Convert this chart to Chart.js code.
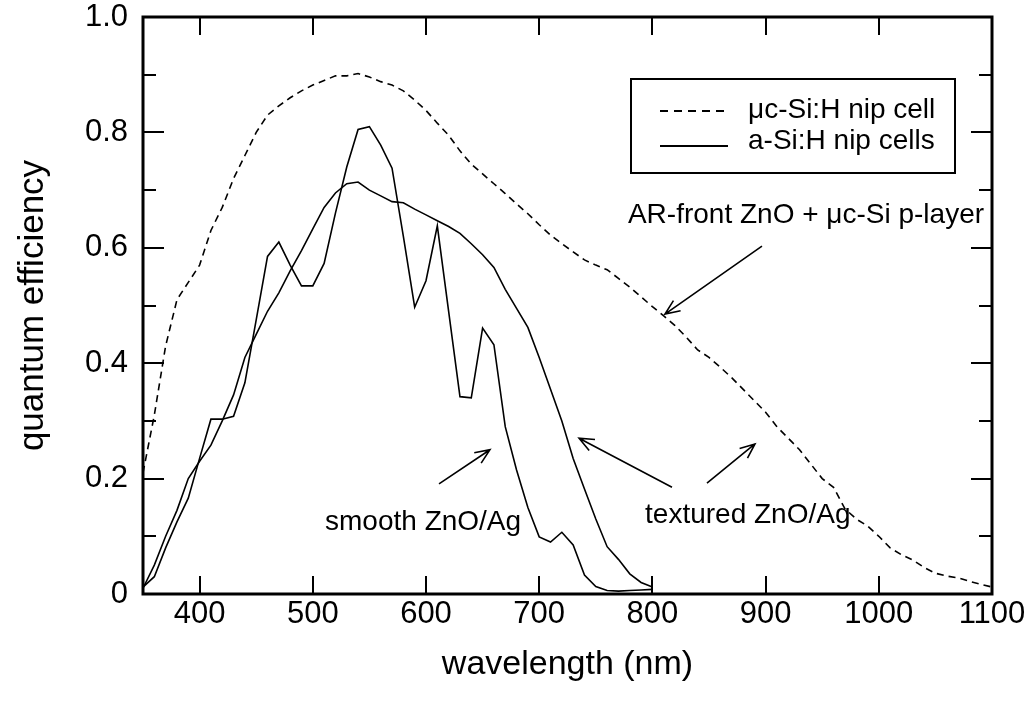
<!DOCTYPE html>
<html>
<head>
<meta charset="utf-8">
<script src="https://cdn.jsdelivr.net/npm/chart.js@4.4.1/dist/chart.umd.min.js"></script>
<style>
    html, body { margin: 0; padding: 0; background: #fff; }
    #wrap { width: 1033px; height: 711px; position: relative; }
</style>
</head>
<body>
<div id="wrap"><canvas id="qeChart"></canvas></div>
<script>
// microcrystalline cell (dashed)
const microWl = [350, 360, 370, 380, 390, 400, 410, 420, 430, 440, 450, 460, 470, 480, 490, 500,
    510, 520, 530, 540, 550, 560, 570, 580, 590, 600, 610, 620, 630, 640, 650, 660, 670, 680, 690, 700,
    710, 720, 730, 740, 750, 760, 770, 780, 790, 800, 810, 820, 830, 840, 850, 860, 870, 880, 890, 900,
    910, 920, 930, 940, 950, 960, 970, 980, 990, 1000, 1010, 1020, 1030, 1040, 1050, 1060, 1070, 1080, 1090, 1100];
const microQE = [0.21, 0.31, 0.43, 0.51, 0.54, 0.57, 0.63, 0.67, 0.72, 0.76, 0.80, 0.83, 0.846, 0.86, 0.872, 0.882,
    0.89, 0.898, 0.898, 0.902, 0.896, 0.888, 0.882, 0.872, 0.856, 0.838, 0.816, 0.795, 0.768, 0.745, 0.728, 0.711, 0.694, 0.676, 0.659, 0.64,
    0.622, 0.607, 0.593, 0.579, 0.57, 0.562, 0.547, 0.532, 0.515, 0.498, 0.482, 0.465, 0.445, 0.423, 0.41, 0.393, 0.375, 0.355, 0.335, 0.315,
    0.29, 0.27, 0.25, 0.225, 0.2, 0.185, 0.148, 0.13, 0.118, 0.1, 0.08, 0.068, 0.059, 0.046, 0.036, 0.031, 0.028, 0.022, 0.017, 0.012];

// amorphous cells (solid)
const aSiWl = [350, 360, 370, 380, 390, 400, 410, 420, 430, 440, 450, 460, 470, 480, 490, 500,
    510, 520, 530, 540, 550, 560, 570, 580, 590, 600, 610, 620, 630, 640, 650, 660, 670, 680, 690, 700,
    710, 720, 730, 740, 750, 760, 770, 780, 790, 800];
const smoothQE = [0.012, 0.03, 0.08, 0.125, 0.166, 0.235, 0.303, 0.303, 0.308, 0.366, 0.475, 0.585, 0.61, 0.57, 0.534, 0.534,
    0.573, 0.66, 0.74, 0.805, 0.81, 0.778, 0.738, 0.62, 0.497, 0.543, 0.638, 0.49, 0.342, 0.34, 0.461, 0.432, 0.29, 0.215, 0.15, 0.099,
    0.09, 0.107, 0.085, 0.033, 0.013, 0.006, 0.005, 0.006, 0.007, 0.008];
const texturedQE = [0.01, 0.05, 0.1, 0.145, 0.2, 0.23, 0.258, 0.3, 0.345, 0.41, 0.45, 0.49, 0.522, 0.56, 0.595, 0.633,
    0.67, 0.695, 0.711, 0.714, 0.7, 0.69, 0.68, 0.678, 0.667, 0.657, 0.647, 0.637, 0.625, 0.607, 0.588, 0.566, 0.528, 0.495, 0.462, 0.41,
    0.355, 0.3, 0.235, 0.182, 0.13, 0.082, 0.06, 0.035, 0.02, 0.012];

const xTicks = [400, 500, 600, 700, 800, 900, 1000, 1100];
const yTicks = [0, 0.2, 0.4, 0.6, 0.8, 1.0];
const yMinorTicks = [0.1, 0.3, 0.5, 0.7, 0.9];

const legendLabels = ['\u03bcc-Si:H nip cell', 'a-Si:H nip cells'];

// annotation texts and arrows, in data units
const notes = [
    { text: 'AR-front ZnO + \u03bcc-Si p-layer', x: 778.4, y: 0.643 },
    { text: 'smooth ZnO/Ag', x: 510.8, y: 0.111 },
    { text: 'textured ZnO/Ag', x: 793.5, y: 0.123 }
];
const arrows = [
    { from: [896.8, 0.603], to: [811.1, 0.485] },
    { from: [611.5, 0.191], to: [656.5, 0.25] },
    { from: [817.3, 0.185], to: [735.2, 0.270] },
    { from: [848.2, 0.192], to: [890.6, 0.26] }
];

const FONT = '"Liberation Sans", Arial, Helvetica, sans-serif';

function toPoints(xs, ys) {
    return xs.map((x, i) => ({ x: x, y: ys[i] }));
}

function drawArrow(ctx, x1, y1, x2, y2) {
    const ang = Math.atan2(y2 - y1, x2 - x1);
    const len = 16, spread = 0.4;
    ctx.beginPath();
    ctx.moveTo(x1, y1);
    ctx.lineTo(x2, y2);
    ctx.moveTo(x2 - len * Math.cos(ang - spread), y2 - len * Math.sin(ang - spread));
    ctx.lineTo(x2, y2);
    ctx.lineTo(x2 - len * Math.cos(ang + spread), y2 - len * Math.sin(ang + spread));
    ctx.stroke();
}

const framePlugin = {
    id: 'frame',
    afterDatasetsDraw(chart) {
        const { ctx, chartArea: a, scales: { x, y } } = chart;
        ctx.save();
        ctx.strokeStyle = '#000';
        ctx.lineWidth = 2;
        ctx.beginPath();
        xTicks.forEach(v => {
            const px = Math.round(x.getPixelForValue(v));
            ctx.moveTo(px, a.bottom);
            ctx.lineTo(px, a.bottom - 18);
            ctx.moveTo(px, a.top);
            ctx.lineTo(px, a.top + 18);
        });
        yTicks.forEach(v => {
            const py = Math.round(y.getPixelForValue(v));
            ctx.moveTo(a.left, py);
            ctx.lineTo(a.left + 21, py);
            ctx.moveTo(a.right, py);
            ctx.lineTo(a.right - 21, py);
        });
        yMinorTicks.forEach(v => {
            const py = Math.round(y.getPixelForValue(v));
            ctx.moveTo(a.left, py);
            ctx.lineTo(a.left + 13, py);
            ctx.moveTo(a.right, py);
            ctx.lineTo(a.right - 13, py);
        });
        ctx.stroke();

        ctx.lineWidth = 3;
        ctx.strokeRect(a.left, a.top, a.right - a.left, a.bottom - a.top);

        // annotations
        ctx.fillStyle = '#000';
        ctx.font = '28px ' + FONT;
        ctx.textAlign = 'left';
        ctx.textBaseline = 'alphabetic';
        notes.forEach(n => {
            ctx.fillText(n.text, x.getPixelForValue(n.x), y.getPixelForValue(n.y));
        });
        ctx.lineWidth = 1.6;
        arrows.forEach(ar => {
            drawArrow(ctx,
                x.getPixelForValue(ar.from[0]), y.getPixelForValue(ar.from[1]),
                x.getPixelForValue(ar.to[0]), y.getPixelForValue(ar.to[1]));
        });

        // legend box
        ctx.lineWidth = 2;
        ctx.strokeRect(631, 79, 324, 94);
        ctx.beginPath();
        ctx.setLineDash([8, 6]);
        ctx.moveTo(660, 111);
        ctx.lineTo(728, 111);
        ctx.stroke();
        ctx.setLineDash([]);
        ctx.beginPath();
        ctx.moveTo(660, 146);
        ctx.lineTo(728, 146);
        ctx.stroke();
        ctx.fillText(legendLabels[0], 748, 118);
        ctx.fillText(legendLabels[1], 748, 149);
        ctx.restore();
    }
};

const chartConfig = {
    type: 'line',
    data: {
        datasets: [
            {
                label: legendLabels[0],
                data: toPoints(microWl, microQE),
                borderColor: '#000',
                borderWidth: 1.6,
                borderDash: [7, 5],
                pointRadius: 0,
                tension: 0,
                fill: false
            },
            {
                label: 'smooth ZnO/Ag',
                data: toPoints(aSiWl, smoothQE),
                borderColor: '#000',
                borderWidth: 1.6,
                pointRadius: 0,
                tension: 0,
                fill: false
            },
            {
                label: 'textured ZnO/Ag',
                data: toPoints(aSiWl, texturedQE),
                borderColor: '#000',
                borderWidth: 1.6,
                pointRadius: 0,
                tension: 0,
                fill: false
            }
        ]
    },
    options: {
        responsive: true,
        maintainAspectRatio: false,
        animation: false,
        layout: {
            padding: { top: 17, right: 41, left: 0, bottom: 0 }
        },
        plugins: {
            legend: { display: false },
            tooltip: { enabled: false }
        },
        scales: {
            x: {
                type: 'linear',
                min: 350,
                max: 1100,
                grid: { display: false, drawTicks: false },
                border: { display: false },
                afterBuildTicks: function (scale) {
                    scale.ticks = xTicks.map(v => ({ value: v }));
                },
                afterFit: function (scale) {
                    scale.height = 117;
                    scale.paddingLeft = 0;
                    scale.paddingRight = 0;
                },
                ticks: {
                    padding: 2,
                    maxRotation: 0,
                    autoSkip: false,
                    color: '#000',
                    font: { family: FONT, size: 31 },
                    callback: function (value) {
                        return String(value);
                    }
                },
                title: {
                    display: true,
                    text: 'wavelength (nm)',
                    color: '#000',
                    font: { family: FONT, size: 34 },
                    padding: { top: 0, bottom: 26 }
                }
            },
            y: {
                type: 'linear',
                min: 0,
                max: 1,
                grid: { display: false, drawTicks: false },
                border: { display: false },
                afterBuildTicks: function (scale) {
                    scale.ticks = yTicks.map(v => ({ value: v }));
                },
                afterFit: function (scale) {
                    scale.width = 143;
                    scale.paddingTop = 0;
                    scale.paddingBottom = 0;
                },
                ticks: {
                    padding: 15,
                    autoSkip: false,
                    color: '#000',
                    font: { family: FONT, size: 31 },
                    callback: function (value) {
                        return value === 0 ? '0' : value.toFixed(1);
                    }
                },
                title: {
                    display: true,
                    text: 'quantum efficiency',
                    color: '#000',
                    font: { family: FONT, size: 35 },
                    padding: { top: 12, bottom: 0 }
                }
            }
        }
    },
    plugins: [framePlugin]
};

new Chart(document.getElementById('qeChart').getContext('2d'), chartConfig);
</script>
</body>
</html>
